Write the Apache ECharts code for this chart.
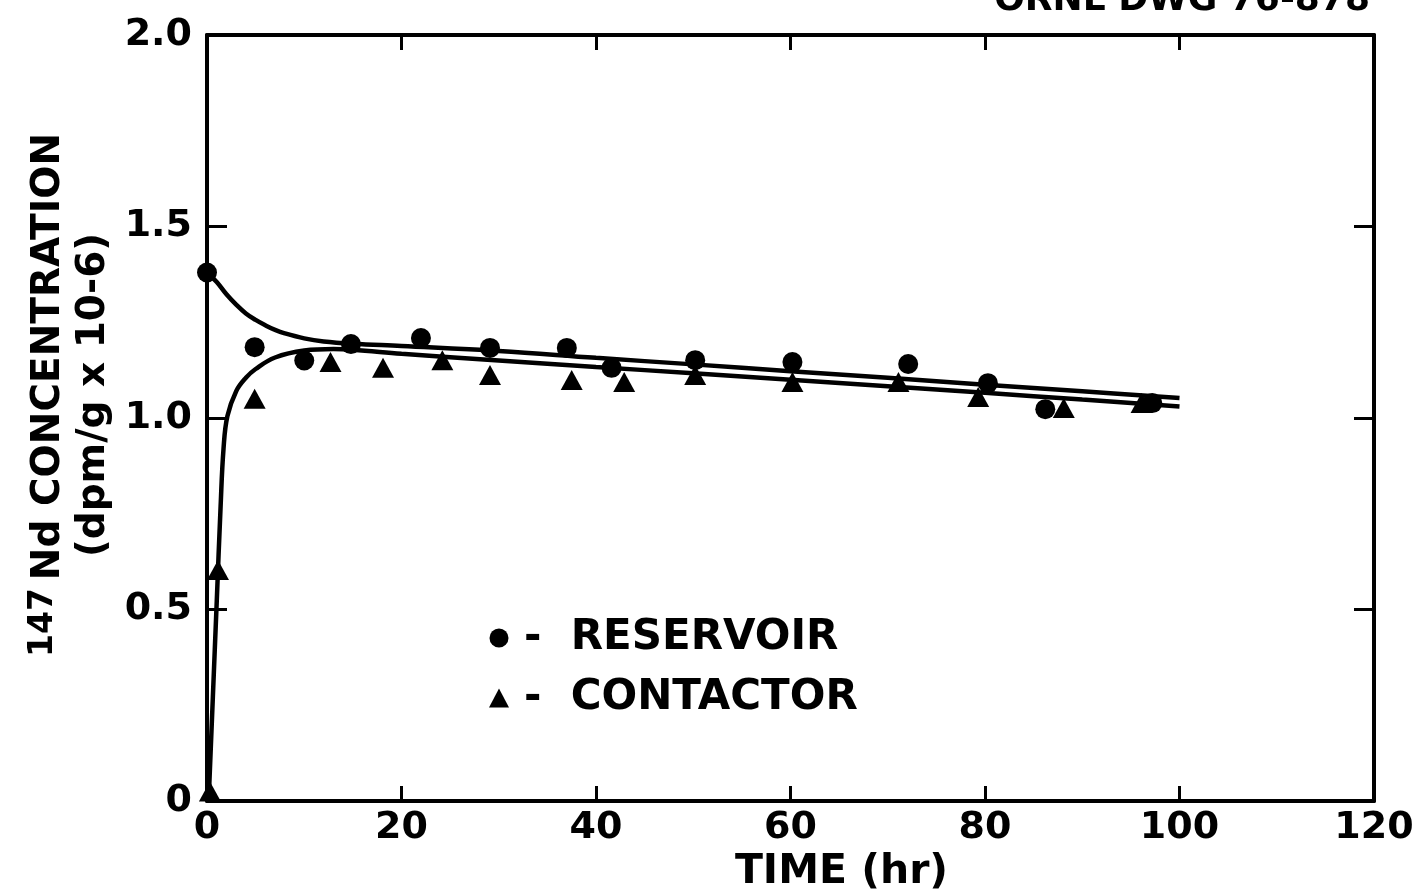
<!DOCTYPE html>
<html>
<head>
<meta charset="utf-8">
<script src="https://cdn.jsdelivr.net/npm/echarts@6/dist/echarts.min.js"></script>
<style>html,body{margin:0;padding:0;background:#fff;}#c{width:1415px;height:890px;}</style>
</head>
<body>
<div id="c"></div>
<script>
// Measured points (time in hr, concentration in dpm/g x 10^-6)
const reservoirTime = [0, 4.9, 10.0, 14.8, 22.0, 29.1, 37.0, 41.6, 50.2, 60.2, 72.1, 80.3, 86.2, 97.2];
const reservoirConc = [1.38, 1.185, 1.15, 1.193, 1.209, 1.183, 1.183, 1.131, 1.151, 1.146, 1.141, 1.091, 1.023, 1.039];

const contactorTime = [0.3, 1.13, 4.9, 12.7, 18.1, 24.2, 29.1, 37.5, 42.9, 50.2, 60.2, 71.1, 79.3, 88.1, 96.1];
const contactorConc = [0.025, 0.603, 1.05, 1.146, 1.131, 1.151, 1.112, 1.099, 1.094, 1.112, 1.094, 1.094, 1.055, 1.026, 1.039];

// Fitted curves
const resCurveTime = [0, 1, 2, 3, 4, 5, 6, 7, 8, 10, 12, 15, 20, 30, 40, 50, 60, 70, 80, 90, 100];
const resCurveConc = [1.38, 1.355, 1.323, 1.296, 1.273, 1.256, 1.242, 1.23, 1.221, 1.208, 1.2, 1.194, 1.188, 1.175, 1.157, 1.14, 1.122, 1.105, 1.087, 1.07, 1.052];

const conCurveTime = [0.2, 0.6, 1.0, 1.4, 1.7, 2.1, 3, 4, 5, 7, 10, 13, 15, 20, 30, 40, 50, 60, 70, 80, 90, 100];
const conCurveConc = [0.02, 0.27, 0.52, 0.77, 0.92, 1.005, 1.07, 1.105, 1.128, 1.158, 1.176, 1.18, 1.178, 1.168, 1.15, 1.133, 1.117, 1.1, 1.083, 1.066, 1.048, 1.03];

const xTicks = [0, 20, 40, 60, 80, 100, 120];
const yTicks = [0, 0.5, 1.0, 1.5, 2.0];

const FONT = "'DejaVu Sans', sans-serif";
const zip = (a, b) => a.map((v, i) => [v, b[i]]);

const chart = echarts.init(document.getElementById('c'), null, {renderer: 'canvas'});
const axisLine = {show: true, onZero: false, lineStyle: {color: '#000', width: 4}};
const labelStyle = {color: '#000', fontFamily: FONT, fontWeight: 'bold', fontSize: 38};
const xMin = xTicks[0], xMax = xTicks[xTicks.length - 1];
const yMin = yTicks[0], yMax = yTicks[yTicks.length - 1];

chart.setOption({
  animation: false,
  backgroundColor: '#fff',
  grid: {left: 207, right: 41, top: 35, bottom: 89, containLabel: false, outerBoundsMode: 'none'},
  xAxis: [
    {
      type: 'value', min: xMin, max: xMax, interval: 20,
      position: 'bottom',
      axisLine: axisLine,
      axisTick: {show: true, inside: true, length: 15, lineStyle: {color: '#000', width: 3}},
      splitLine: {show: false},
      axisLabel: Object.assign({margin: 8}, labelStyle),
      name: 'TIME (hr)', nameLocation: 'middle', nameGap: 50,
      nameTextStyle: {color: '#000', fontFamily: FONT, fontWeight: 'bold', fontSize: 41, padding: [0, 0, 0, 102]}
    },
    {
      type: 'value', min: xMin, max: xMax, interval: 20, position: 'top',
      axisLine: axisLine,
      axisTick: {show: true, inside: true, length: 15, lineStyle: {color: '#000', width: 3}},
      axisLabel: {show: false}, splitLine: {show: false}
    }
  ],
  yAxis: [
    {
      type: 'value', min: yMin, max: yMax, interval: 0.5,
      position: 'left',
      axisLine: axisLine,
      axisTick: {show: true, inside: true, length: 20, lineStyle: {color: '#000', width: 3}},
      splitLine: {show: false},
      axisLabel: Object.assign({margin: 15, formatter: v => v === 0 ? '0' : v.toFixed(1)}, labelStyle),
      name: '{sup|147}{big|Nd CONCENTRATION}\n{big|(dpm/g x 10-6)}',
      nameLocation: 'middle', nameRotate: 90, nameGap: 86,
      nameTextStyle: {
        color: '#000', fontFamily: FONT, fontWeight: 'bold', align: 'center',
        padding: [0, 0, 0, 46],
        rich: {
          sup: {fontSize: 33, fontFamily: FONT, fontWeight: 'bold', color: '#000', verticalAlign: 'top', lineHeight: 45, padding: [0, 8, 10, 0]},
          big: {fontSize: 39, fontFamily: FONT, fontWeight: 'bold', color: '#000', lineHeight: 45}
        }
      }
    },
    {
      type: 'value', min: yMin, max: yMax, interval: 0.5, position: 'right',
      axisLine: axisLine,
      axisTick: {show: true, inside: true, length: 20, lineStyle: {color: '#000', width: 3}},
      axisLabel: {show: false}, splitLine: {show: false}
    }
  ],
  legend: {
    show: true, orient: 'vertical', left: 484, top: 611,
    itemWidth: 20, itemHeight: 19, itemGap: 16,
    data: [{name: 'RESERVOIR', icon: 'circle'}, {name: 'CONTACTOR', icon: 'triangle'}],
    formatter: n => '-  ' + n,
    itemStyle: {opacity: 1},
    textStyle: {color: '#000', fontFamily: FONT, fontWeight: 'bold', fontSize: 42, lineHeight: 44, padding: [0, 0, 0, 10]},
    selectedMode: false
  },
  graphic: [
    {type: 'text', right: 45, top: -17,
     style: {text: 'ORNL DWG 76-878', fill: '#000', font: "bold 36px 'DejaVu Sans', sans-serif"}}
  ],
  series: [
    {
      name: 'resCurve', type: 'line', data: zip(resCurveTime, resCurveConc),
      xAxisIndex: 1, yAxisIndex: 1,
      smooth: 0.4, showSymbol: false, symbol: 'none', lineStyle: {color: '#000', width: 4.5}, z: 2
    },
    {
      name: 'conCurve', type: 'line', data: zip(conCurveTime, conCurveConc),
      xAxisIndex: 1, yAxisIndex: 1,
      smooth: 0.4, showSymbol: false, symbol: 'none', lineStyle: {color: '#000', width: 4.5}, z: 2
    },
    {
      name: 'RESERVOIR', type: 'scatter', data: zip(reservoirTime, reservoirConc),
      symbol: 'circle', symbolSize: 20, itemStyle: {color: '#000', opacity: 1}, clip: false, z: 3
    },
    {
      name: 'CONTACTOR', type: 'scatter', data: zip(contactorTime, contactorConc),
      symbol: 'triangle', symbolSize: [22, 20], itemStyle: {color: '#000', opacity: 1}, clip: false, z: 3
    }
  ]
});
</script>
</body>
</html>
